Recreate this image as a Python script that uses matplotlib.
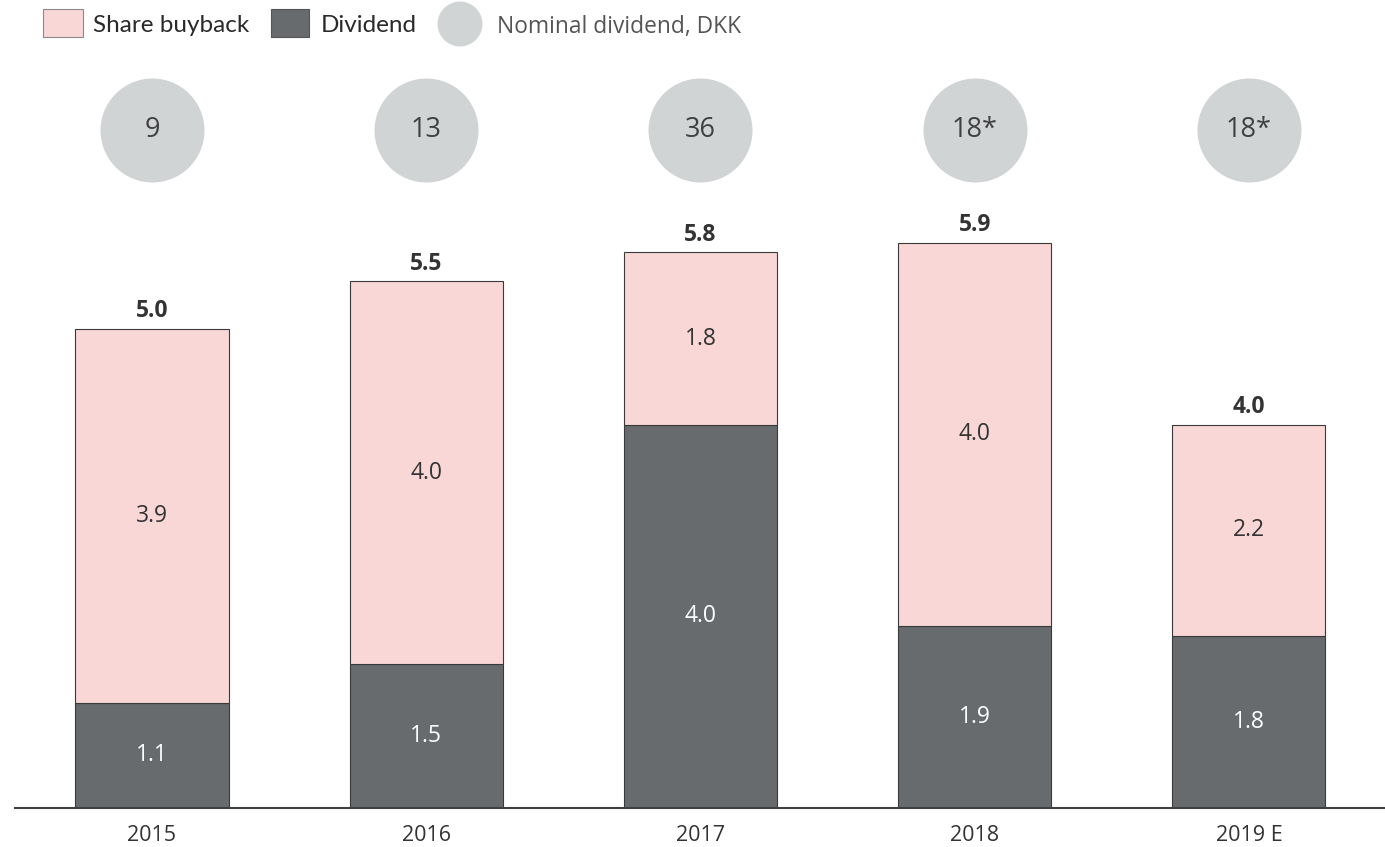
import matplotlib
matplotlib.use("Agg")
import matplotlib.pyplot as plt
from matplotlib.patches import Rectangle, Ellipse

years = ["2015", "2016", "2017", "2018", "2019 E"]
dividend = [1.1, 1.5, 4.0, 1.9, 1.8]
buyback = [3.9, 4.0, 1.8, 4.0, 2.2]
nominal = ["9", "13", "36", "18*", "18*"]

PINK = "#f8d7d6"
DARK = "#686b6e"
CIRC = "#d1d4d5"
TXT = "#404040"
EDGE = "#3a3a3a"

W, H = 1385, 847
fig = plt.figure(figsize=(W / 100, H / 100), dpi=100)
ax = fig.add_axes([15 / W, 39 / H, (1385 - 15) / W, 808 / H])
ymax = 808 / 95.8
ax.set_ylim(0, ymax)
ax.set_xlim(-0.4995, 4.496)

x = list(range(len(years)))
bw = 0.558
ax.bar(x, dividend, width=bw, color=DARK, edgecolor=EDGE, linewidth=0.8, zorder=2)
ax.bar(x, buyback, width=bw, bottom=dividend, color=PINK, edgecolor=EDGE, linewidth=0.8, zorder=2)

font = "Open Sans"
for i in x:
    d, b = dividend[i], buyback[i]
    ax.text(i, d / 2, f"{d:.1f}", ha="center", va="center", color="white", fontsize=16.5, family=font)
    ax.text(i, d + b / 2, f"{b:.1f}", ha="center", va="center", color="#333333", fontsize=16.5, family=font)
    ax.annotate(f"{d + b:.1f}", (i, d + b), xytext=(0, 4), textcoords="offset points",
                ha="center", va="bottom", color="#333333", fontsize=16.5, fontweight="bold", family=font)

cy = (808 - 130) / 95.8
ax.scatter(x, [cy] * len(x), s=(104 * 0.72) ** 2, color=CIRC, linewidths=0, zorder=3, clip_on=False)
for i in x:
    ax.text(i, cy, nominal[i], ha="center", va="center", color=TXT, fontsize=19.5, family=font, zorder=4)

for s in ["top", "right", "left"]:
    ax.spines[s].set_visible(False)
ax.spines["bottom"].set_color(TXT)
ax.spines["bottom"].set_linewidth(1.5)
ax.set_yticks([])
ax.set_xticks(x)
ax.set_xticklabels(years, fontsize=15.5, color="#333333", family=font)
ax.tick_params(axis="x", length=0, pad=12)


def fx(px):
    return px / W


def fy(py):
    return 1 - py / H


# legend
lf = "Lato"
fig.add_artist(Rectangle((fx(43), fy(37)), fx(83) - fx(43), fy(9) - fy(37), transform=fig.transFigure,
                         facecolor=PINK, edgecolor="#8a8a8a", linewidth=0.8))
fig.text(fx(93), fy(26), "Share buyback", fontsize=17.5, color="#2a2a2a", va="center", ha="left", family=lf)
fig.add_artist(Rectangle((fx(271), fy(37)), fx(309) - fx(271), fy(9) - fy(37), transform=fig.transFigure,
                         facecolor=DARK, edgecolor="#555555", linewidth=0.8))
fig.text(fx(321), fy(26), "Dividend", fontsize=17.5, color="#2a2a2a", va="center", ha="left", family=lf)
fig.add_artist(Ellipse((fx(460), fy(24)), 45 / W, 45 / H, transform=fig.transFigure,
                       facecolor=CIRC, edgecolor="none"))
fig.text(fx(497), fy(27), "Nominal dividend, DKK", fontsize=16.4, color="#555555", va="center", ha="left", family=font)

fig.savefig("out.png", dpi=100)
